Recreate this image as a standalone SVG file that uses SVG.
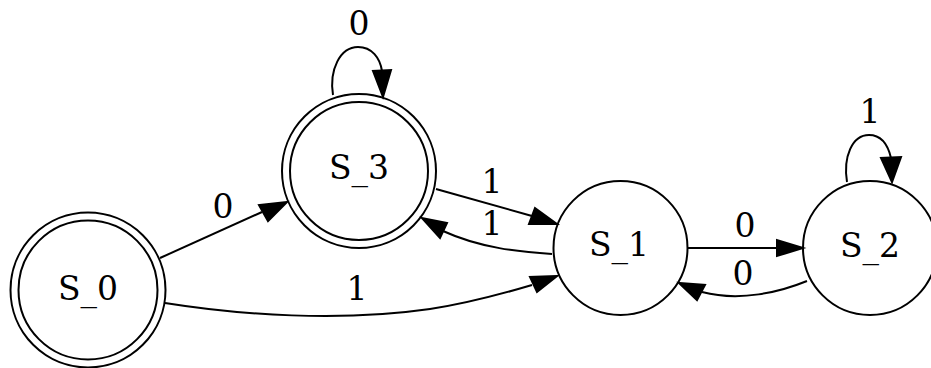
<svg xmlns="http://www.w3.org/2000/svg" width="931" height="368" viewBox="0 0 931 368">
<style>
.n{fill:none;stroke:#000;stroke-width:2}
.e{fill:none;stroke:#000;stroke-width:2}
.a{fill:#000;stroke:#000;stroke-width:2}
text{font-family:"DejaVu Serif",serif;font-size:33px;fill:#000;text-anchor:middle}
</style>
<rect width="931" height="368" fill="#fff"/>
<g id="edges">
<path class="e" d="M160,258 L262,212"/>
<polygon class="a" points="287,202 259,205 268,221"/>
<text x="223" y="218">0</text>
<path class="e" d="M165,303 C240,315 340,322 430,309 C470,303 505,293 532,285"/>
<polygon class="a" points="557,276 530,277 537,292"/>
<text x="357" y="300">1</text>
<path class="e" d="M436,189 L532,216"/>
<polygon class="a" points="557,224 535,208 529,224"/>
<text x="492" y="193">1</text>
<path class="e" d="M552,254 C520,252 480,248 443,231"/>
<polygon class="a" points="422,218 440,238 447,223"/>
<text x="492" y="235">1</text>
<path class="e" d="M688,248 L778,248"/>
<polygon class="a" points="803,248 777,240 777,256"/>
<text x="745" y="237">0</text>
<path class="e" d="M807,281 C780,292 740,302 702,292"/>
<polygon class="a" points="679,283 697,300 705,285"/>
<text x="743" y="285">0</text>
<path class="e" d="M333,95 C329,70 340,47 358,47 C372,47 380,58 382,71"/>
<polygon class="a" points="383,97 373,71 391,70"/>
<text x="359" y="35">0</text>
<path class="e" d="M847,182 C843,157 852,135 869,135 C881,135 888,145 891,158"/>
<polygon class="a" points="892,182 881,158 901,157"/>
<text x="870" y="123">1</text>
</g>
<g id="S_0">
<circle class="n" cx="88" cy="290" r="77.5"/>
<circle class="n" cx="88" cy="290" r="69.5"/>
<text x="88" y="300">S_0</text>
</g>
<g id="S_3">
<circle class="n" cx="359" cy="171" r="77"/>
<circle class="n" cx="359" cy="171" r="69"/>
<text x="359" y="179">S_3</text>
</g>
<g id="S_1">
<circle class="n" cx="620.5" cy="248" r="67"/>
<text x="619" y="256">S_1</text>
</g>
<g id="S_2">
<circle class="n" cx="870" cy="248" r="67"/>
<text x="870" y="257">S_2</text>
</g>
</svg>
